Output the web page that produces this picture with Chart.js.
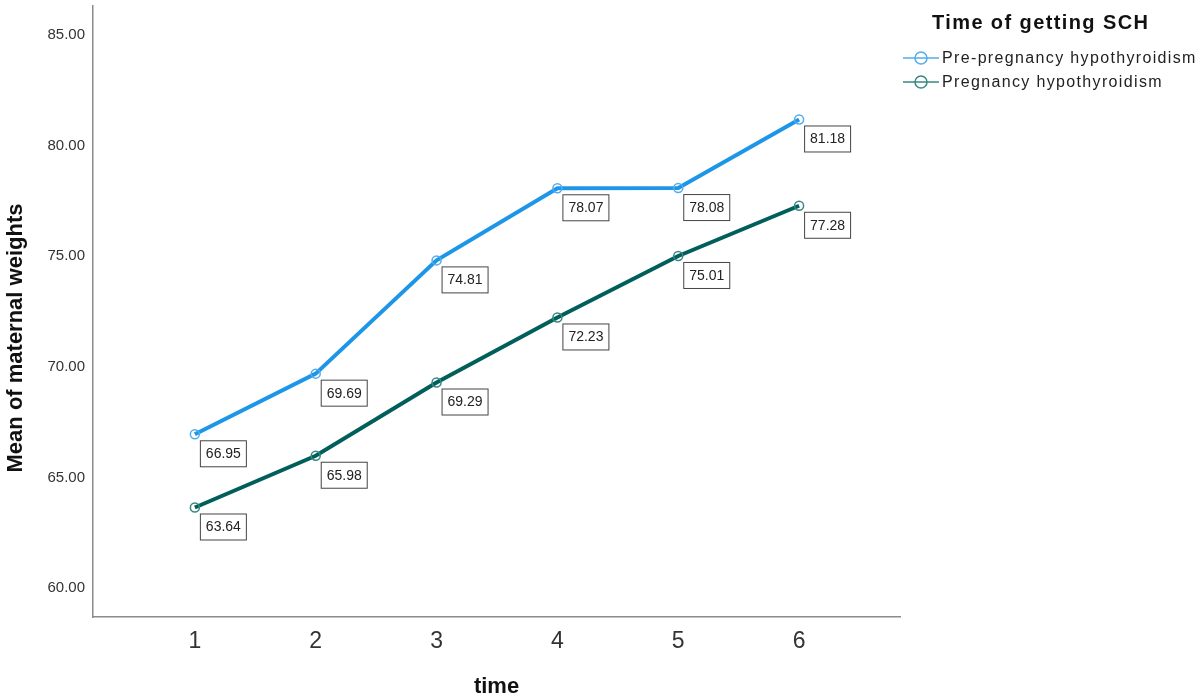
<!DOCTYPE html>
<html>
<head>
<meta charset="utf-8">
<script src="https://cdn.jsdelivr.net/npm/chart.js@4"></script>
<style>
  html, body { margin: 0; padding: 0; background: #fff; }
  #wrap { position: relative; width: 1200px; height: 697px; }
  #legend { position: absolute; left: 903px; top: 11px; font-family: Arial, "Liberation Sans", sans-serif; color: #111; }
  #legend .title { font-weight: bold; font-size: 20px; letter-spacing: 1.4px; margin-left: 29px; margin-bottom: 12px; }
  #legend .item { display: flex; align-items: center; font-size: 16px; letter-spacing: 1.35px; height: 24px; color: #222; }
  #legend canvas { margin-right: 3px; }
</style>
</head>
<body>
<div id="wrap">
  <canvas id="grafico" width="1200" height="697"></canvas>
  <div id="legend">
    <div class="title">Time of getting SCH</div>
  </div>
</div>
<script>
"use strict";
const timePoints = [1, 2, 3, 4, 5, 6];
const prePregnancy = [66.95, 69.69, 74.81, 78.07, 78.08, 81.18];
const pregnancy = [63.64, 65.98, 69.29, 72.23, 75.01, 77.28];
const yTicks = [60, 65, 70, 75, 80, 85];
const seriesNames = ['Pre-pregnancy hypothyroidism', 'Pregnancy hypothyroidism'];
const yTitle = 'Mean of maternal weights';

const FONT = 'Arial, "Liberation Sans", sans-serif';

// Caixas com os valores ao lado de cada ponto + titulo do eixo y
const valueBoxes = {
    id: 'valueBoxes',
    afterDatasetsDraw(chart) {
        const ctx = chart.ctx;
        ctx.save();
        ctx.font = '14px ' + FONT;
        ctx.textBaseline = 'middle';
        chart.data.datasets.forEach((ds, i) => {
            const meta = chart.getDatasetMeta(i);
            meta.data.forEach((pt, j) => {
                const txt = ds.data[j].y.toFixed(2);
                const w = 46, h = 26;
                const x = pt.x + 5, y = pt.y + 6;
                ctx.fillStyle = '#fff';
                ctx.fillRect(x, y, w, h);
                ctx.strokeStyle = '#444';
                ctx.lineWidth = 1;
                ctx.strokeRect(x + 0.5, y + 0.5, w, h);
                ctx.fillStyle = '#222';
                ctx.textAlign = 'center';
                ctx.fillText(txt, x + w / 2 + 0.5, y + h / 2 + 1);
            });
        });
        // titulo do eixo y
        ctx.translate(15.5, 338);
        ctx.rotate(-Math.PI / 2);
        ctx.font = 'bold 22px ' + FONT;
        ctx.fillStyle = '#111';
        ctx.textAlign = 'center';
        ctx.textBaseline = 'middle';
        ctx.fillText(yTitle, 0, 0);
        ctx.restore();
    }
};

const colors = [
    { line: '#1e96e8', point: '#52acef' },
    { line: '#005f5a', point: '#3a8782' }
];

const datasets = [prePregnancy, pregnancy].map((vals, i) => ({
    label: seriesNames[i],
    data: timePoints.map((t, k) => ({ x: t, y: vals[k] })),
    borderColor: colors[i].line,
    borderWidth: 4,
    pointRadius: 4.5,
    pointBorderWidth: 1.5,
    pointBorderColor: colors[i].point,
    pointBackgroundColor: 'rgba(255,255,255,0)',
    tension: 0
}));

// legenda em HTML
const legend = document.getElementById('legend');
datasets.forEach((ds, i) => {
    const item = document.createElement('div');
    item.className = 'item';
    const c = document.createElement('canvas');
    c.width = 36; c.height = 16;
    const cx = c.getContext('2d');
    cx.strokeStyle = colors[i].point;
    cx.lineWidth = 1.5;
    cx.beginPath(); cx.moveTo(0, 8); cx.lineTo(36, 8); cx.stroke();
    cx.beginPath(); cx.arc(18, 8, 6, 0, Math.PI * 2); cx.stroke();
    item.appendChild(c);
    const span = document.createElement('span');
    span.textContent = ds.label;
    item.appendChild(span);
    legend.appendChild(item);
});

const canvas = document.getElementById('grafico');
const ctx = canvas.getContext('2d');
new Chart(ctx, {
    type: 'line',
    data: { datasets: datasets },
    options: {
        responsive: false,
        animation: false,
        layout: { padding: { top: 0, right: 300, left: 0, bottom: 0 } },
        plugins: { legend: { display: false }, tooltip: { enabled: false } },
        scales: {
            x: {
                type: 'linear',
                min: 0.157,
                max: 6.835,
                afterBuildTicks: (s) => { s.ticks = timePoints.map(v => ({ value: v })); },
                afterFit: (s) => { s.height = 80; s.paddingLeft = 0; s.paddingRight = 0; },
                grid: { display: false },
                border: { display: true, color: '#8a8a8a', width: 1.5 },
                ticks: { font: { family: FONT, size: 23 }, color: '#333', padding: 3 },
                title: { display: true, text: 'time', font: { family: FONT, size: 22, weight: 'bold', lineHeight: 1 }, color: '#111', padding: { top: 0, bottom: -1 } }
            },
            y: {
                min: 58.69,
                max: 86.31,
                afterBuildTicks: (s) => { s.ticks = yTicks.map(v => ({ value: v })); },
                afterFit: (s) => { s.width = 93; s.paddingTop = 0; s.paddingBottom = 0; },
                grid: { display: false, drawTicks: false },
                border: { display: true, color: '#8a8a8a', width: 1.5 },
                ticks: { font: { family: FONT, size: 15 }, color: '#333', padding: 8, callback: (v) => Number(v).toFixed(2) },
                title: { display: false }
            }
        }
    },
    plugins: [valueBoxes]
});
</script>
</body>
</html>
